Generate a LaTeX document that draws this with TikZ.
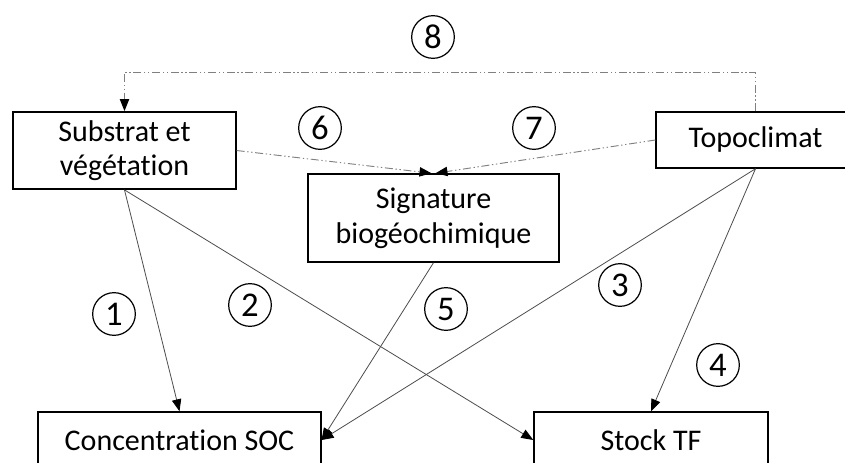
\documentclass[tikz,border=0pt]{standalone}
\usepackage{fontspec}
\setmainfont{Carlito}[Ligatures=NoCommon]
\usetikzlibrary{positioning, arrows.meta, calc}

\begin{document}
\begin{tikzpicture}[
			x=0.75pt, y=-0.75pt,
			% --- Styles ---
			factor/.style={
				rectangle, draw, line width=1.1pt, align=center, inner sep=0pt,
				font=\fontsize{22.5}{26}\selectfont
			},
			numlabel/.style={
				circle, draw, line width=0.9pt, minimum size=32pt, inner sep=0pt,
				font=\fontsize{26}{28}\selectfont
			},
			link/.style={
				draw=black!70, line width=0.6pt, -{Triangle[length=9pt, width=7pt, color=black]}
			},
			dashlink/.style={
				draw=gray, line width=0.7pt,
				dash pattern=on 6pt off 2pt on 1pt off 2pt on 1pt off 2pt,
				-{Triangle[length=9pt, width=7pt, color=black]}
			}
			]
			
			% --- 0. Frame ---
			\useasboundingbox (0,0) rectangle (845,463);
			\clip (0,0) rectangle (845,463);
			
			% --- 1. Factors ---
			\node [factor, minimum width=167pt, minimum height=58pt] (sub) at (124.5,150.5) {Substrat et\\végétation};
			\node [factor, minimum width=149pt, minimum height=42pt] (topo) at (755.5,140) {Topoclimat};
			\node [factor, minimum width=188pt, minimum height=66pt] (sig) at (433.5,218) {Signature\\biogéochimique};
			
			% --- 2. Responses ---
			\node [factor, minimum width=212pt, minimum height=42pt] (soc) at (179.5,440) {Concentration SOC};
			\node [factor, minimum width=175.5pt, minimum height=42pt] (stock) at (651,440) {Stock TF};
			
			% --- 3. Links ---
			% meeting points on top of the signature box
			\coordinate (sig_left) at ($(sig.north)+(-2,0)$);
			\coordinate (sig_right) at ($(sig.north)+(2,0)$);
			
			\draw [link] (sub.south) -- (soc.north);
			\draw [link] (sub.south) -- (stock.west);
			\draw [link] (topo.south) -- (soc.east);
			\draw [link] (topo.south) -- (stock.north);
			\draw [link] (sig.south) -- (soc.east);
			
			% Dash-dot links
			\draw [dashlink] (sub.east) -- (sig_left);
			\draw [dashlink] (topo.west) -- (sig_right);
			\draw [dashlink] (topo.north) -- ++(0,-39) -| (sub.north);
			
			% --- 4. Numbers ---
			\node [numlabel] (n1) at (114,314) {1};
			\node [numlabel] (n2) at (250,305) {2};
			\node [numlabel] (n3) at (620,285) {3};
			\node [numlabel] (n4) at (718,365) {4};
			\node [numlabel] (n5) at (446,309) {5};
			\node [numlabel] (n6) at (320,128) {6};
			\node [numlabel] (n7) at (534,128) {7};
			\node [numlabel] (n8) at (433,37) {8};
			
		\end{tikzpicture}
\end{document}
